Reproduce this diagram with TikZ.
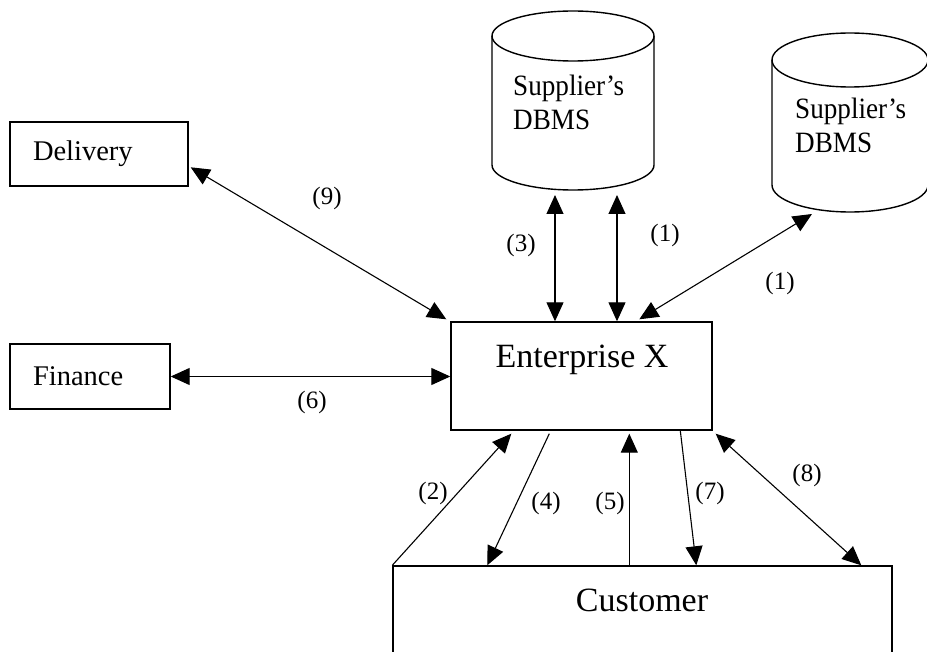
\documentclass[tikz,border=0pt]{standalone}
\usepackage{fontspec}
\setmainfont{Liberation Serif}
\newfontfamily\cylfont[FakeStretch=0.92,Ligatures=TeX]{Liberation Serif}
\usetikzlibrary{arrows.meta,calc}
\begin{document}
\begin{tikzpicture}[x=1pt,y=-1pt,
  box/.style={draw, line width=1.4pt, inner sep=0pt},
  cyl/.style={line width=1.4pt},
  conn/.style={line width=1.1pt, >={Triangle[length=19pt,width=17pt]}},
  lbl/.style={font=\fontsize{25}{30}\selectfont, inner sep=0pt},
  txt/.style={font=\fontsize{28.5}{34}\selectfont},
  ctxt/.style={font=\cylfont\fontsize{29.5}{34}\selectfont},
  big/.style={font=\fontsize{34}{40}\selectfont, inner sep=0pt}]
\useasboundingbox (0,0) rectangle (927,652);
\fill[white] (0,0) rectangle (927,652);

% boxes
\node[box, txt, minimum width=178pt, minimum height=64pt, text width=132pt, align=left] (delivery) at (99,154) {Delivery};
\node[box, txt, minimum width=160pt, minimum height=65pt, text width=114pt, align=left] (finance) at (90,376.5) {Finance};
\node[box, minimum width=261pt, minimum height=108pt] (ent) at (581.5,376) {};
\node[big] (enttext) at (582,360) {Enterprise X};
\node[box, minimum width=499pt, minimum height=120pt] (cust) at (642.5,626) {};
\node[big] (custtext) at (642,600) {Customer};

% cylinders
\draw[cyl] (573,36) ellipse[x radius=81pt, y radius=25pt];
\draw[cyl] (492,36) -- (492,165) arc[start angle=180, end angle=360, x radius=81pt, y radius=25pt] -- (654,36);
\node[ctxt, align=left, anchor=north west, inner sep=0pt] (db1text) at (513,75) {Supplier's\\DBMS};

\draw[cyl] (850,60) ellipse[x radius=78pt, y radius=27pt];
\draw[cyl] (772,60) -- (772,185) arc[start angle=180, end angle=360, x radius=78pt, y radius=27pt] -- (928,60);
\node[ctxt, align=left, anchor=north west, inner sep=0pt] (db2text) at (795,98) {Supplier's\\DBMS};

\coordinate (s1a) at (555,195);
\coordinate (s1b) at (617,195);
\coordinate (s2) at (812,214);

% connectors
\draw[conn,<->] (s1a) -- (s1a |- ent.north);
\draw[conn,<->] (s1b) -- (s1b |- ent.north);
\draw[conn,<->] (s2) -- ($(ent.north west)+(189,-2)$);
\draw[conn,<->] ($(delivery.north east)+(2,46)$) -- ($(ent.north west)+(-4,-2)$);
\draw[conn,<->] (finance.east) -- (finance.east -| ent.west);
\draw[conn,->] (cust.north west) -- ($(ent.south west)+(61,3)$);
\draw[conn,->] ($(ent.south west)+(99,3)$) -- ($(cust.north west)+(95,0)$);
\coordinate (c5) at ($(cust.north west)+(237,0)$);
\draw[conn,->] (c5) -- ($(c5 |- ent.south)+(0,3)$);
\draw[conn,->] ($(ent.south west)+(230,0)$) -- ($(cust.north west)+(304,0)$);
\draw[conn,<->] ($(ent.south east)+(3,3)$) -- ($(cust.north west)+(469,0)$);

% labels
\node[lbl] at (327,198) {(9)};
\node[lbl] at (312,402) {(6)};
\node[lbl] at (521,245) {(3)};
\node[lbl] at (665,235) {(1)};
\node[lbl] at (780,283) {(1)};
\node[lbl] at (433,493) {(2)};
\node[lbl] at (546,503) {(4)};
\node[lbl] at (610,503) {(5)};
\node[lbl] at (710,493) {(7)};
\node[lbl] at (807,475) {(8)};
\end{tikzpicture}
\end{document}
